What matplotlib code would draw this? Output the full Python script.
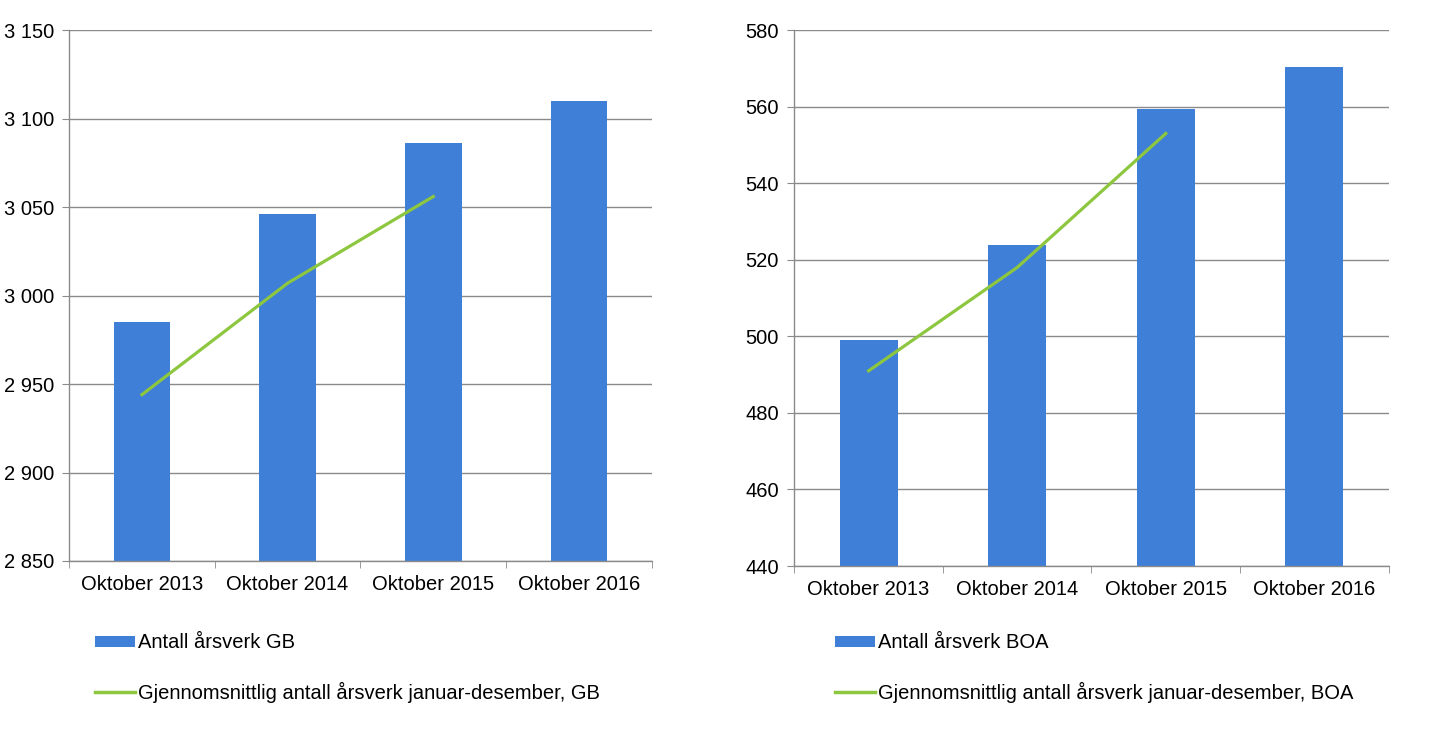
import matplotlib
matplotlib.use("Agg")
import matplotlib.pyplot as plt
from matplotlib.patches import Patch
from matplotlib.lines import Line2D
from matplotlib.ticker import FuncFormatter, MultipleLocator

plt.rcParams["font.family"] = ["Liberation Sans", "DejaVu Sans"]

# Data
categories = ["Oktober 2013", "Oktober 2014", "Oktober 2015", "Oktober 2016"]
gb_bars = [2985, 3046, 3086, 3110]
gb_avg = [2944, 3007, 3056]
boa_bars = [499, 524, 559.5, 570.5]
boa_avg = [491, 518, 553]

BAR_COLOR = "#3f7fd8"
LINE_COLOR = "#8dc63f"
GRID_COLOR = "#8a8a8a"
FS = 14.5


def space_thousands(v, pos):
    return f"{int(round(v)):,}".replace(",", " ")


def draw_panel(ax, bars, avg, ylim, step, bar_label, line_label, legend_x):
    x = list(range(len(categories)))
    ax.bar(x, bars, width=0.39, color=BAR_COLOR, zorder=2)
    ax.plot(x[:len(avg)], avg, color=LINE_COLOR, linewidth=2.3, zorder=3)
    ax.set_xlim(-0.5, len(categories) - 0.5)
    ax.set_ylim(*ylim)
    ax.yaxis.set_major_locator(MultipleLocator(step))
    ax.yaxis.set_major_formatter(FuncFormatter(space_thousands))
    ax.yaxis.grid(True, color=GRID_COLOR, linewidth=1.0, zorder=1)
    ax.set_axisbelow(True)
    ax.set_xticks(x)
    ax.set_xticklabels(categories, fontsize=FS)
    # category boundary ticks
    ax.set_xticks([i + 0.5 for i in range(-1, len(categories))], minor=True)
    ax.tick_params(axis="x", which="major", length=0, pad=10)
    ax.tick_params(axis="x", which="minor", length=5, color=GRID_COLOR)
    ax.tick_params(axis="y", length=5, color=GRID_COLOR, labelsize=FS, pad=6)
    for side in ("top", "right"):
        ax.spines[side].set_visible(False)
    for side in ("left", "bottom"):
        ax.spines[side].set_color(GRID_COLOR)
        ax.spines[side].set_linewidth(1.0)

    handles = [
        Patch(facecolor=BAR_COLOR, edgecolor="none"),
        Line2D([0], [0], color=LINE_COLOR, linewidth=2.5),
    ]
    fig.legend(handles, [bar_label, line_label], loc="upper left",
               bbox_to_anchor=(legend_x, 0.16), frameon=False, fontsize=FS,
               handlelength=2.0, handleheight=0.45, handletextpad=0.15,
               labelspacing=1.45, borderpad=0, borderaxespad=0)


fig = plt.figure(figsize=(14.39, 7.54), dpi=100)
ax1 = fig.add_axes([0.048, 0.256, 0.405, 0.704])
ax2 = fig.add_axes([0.552, 0.2493, 0.413, 0.7107])

draw_panel(ax1, gb_bars, gb_avg, (2850, 3150), 50, "Antall årsverk GB",
           "Gjennomsnittlig antall årsverk januar-desember, GB", 0.066)
draw_panel(ax2, boa_bars, boa_avg, (440, 580), 20, "Antall årsverk BOA",
           "Gjennomsnittlig antall årsverk januar-desember, BOA", 0.58)

fig.savefig("out.png", dpi=100)
